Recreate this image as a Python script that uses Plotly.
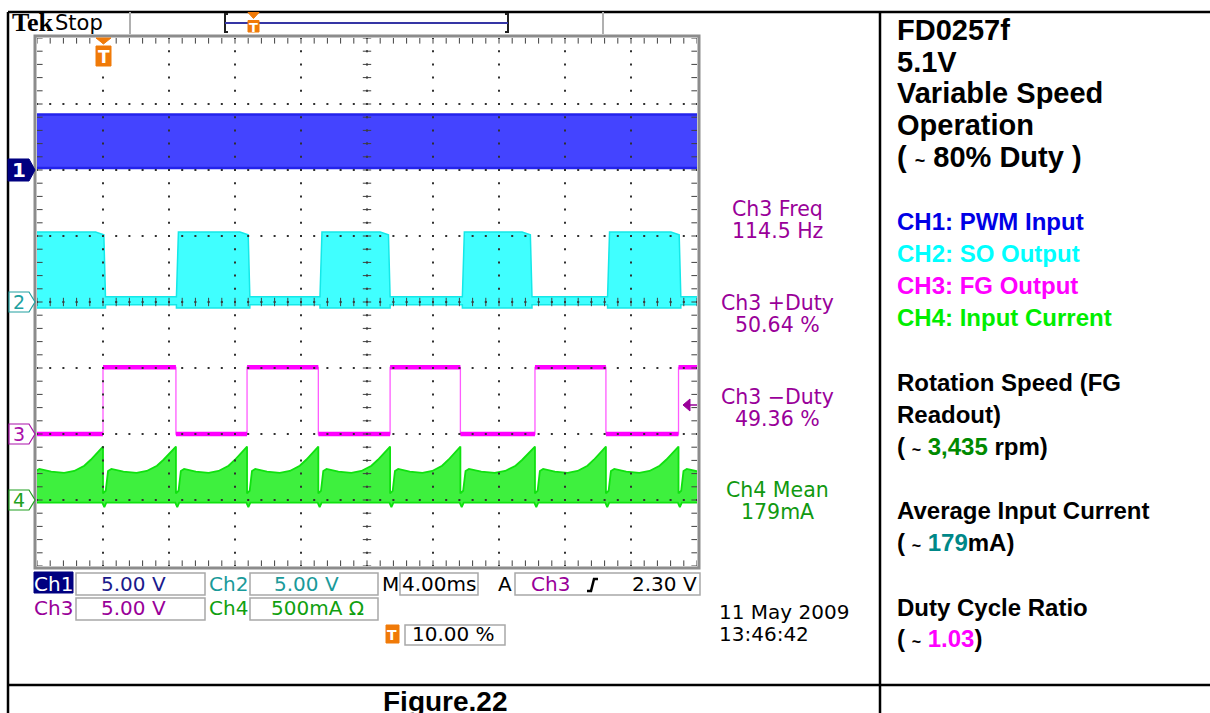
import numpy as np
import plotly.graph_objects as go

W, H = 1210, 713
PAGE_OFFSET = 0   # body margin removed by post_script below

# ------------------------------------------------------------------ data
ms_per_div = 4.0
x_range_ms = [-4.0, 36.0]          # 10 div, trigger at 10 %
y_range_div = [-4.0, 4.0]

ch1_offset, ch2_offset, ch3_offset, ch4_offset = 2.0, 0.0, -2.0, -3.0

# CH1 PWM input: dense band (bottom, top) in div
ch1_band_div = [0.03, 0.84]

# CH2 SO output: chopped blocks
ch2_high_start_ms = [-6.0, 4.45, 13.15, 21.78, 30.58]
ch2_high_end_ms = [0.05, 8.80, 17.30, 25.90, 34.92]
ch2_low_band_div = [-0.04, 0.08]
ch2_high_bottom_div = -0.09
ch2_high_top_div = 1.06
ch2_high_end_div = 1.02

# CH3 FG output: edges (first edge = trigger rising edge)
ch3_edges_ms = [0.0, 4.42, 8.73, 13.05, 17.40, 21.66, 26.18, 30.48, 34.88]
ch3_low_div, ch3_high_div = 0.0, 1.01

# CH4 input current: envelope per commutation half period
ch4_prev_edge_ms = -4.36
ch4_next_edge_ms = 39.25
ch4_profile_frac = [0.0, 0.037, 0.069, 0.115, 0.28, 0.46, 0.60, 0.74, 0.83, 0.93, 1.0]
ch4_profile_div = [0.10, 0.14, 0.44, 0.47, 0.43, 0.41, 0.44, 0.52, 0.61, 0.72, 0.81]
ch4_base_div = -0.04
ch4_dip_div = -0.11

meas_labels = ["Ch3 Freq", "114.5 Hz", "Ch3 +Duty", "50.64 %", "Ch3 \u2212Duty", "49.36 %", "Ch4 Mean", "179mA"]

# ------------------------------------------------------------------ helpers
def px(x):
    return (x - PAGE_OFFSET) / W

def py(y):
    return 1 - (y - PAGE_OFFSET) / H

shapes = []
annos = []

def line(x0, y0, x1, y1, color="black", width=2):
    shapes.append(dict(type="line", xref="paper", yref="paper", x0=px(x0), y0=py(y0),
                       x1=px(x1), y1=py(y1), line=dict(color=color, width=width)))

def rect(x0, y0, x1, y1, color="#a8a8a8", width=1.5, fill=None):
    shapes.append(dict(type="rect", xref="paper", yref="paper", x0=px(x0), y0=py(y0),
                       x1=px(x1), y1=py(y1), line=dict(color=color, width=width),
                       fillcolor=fill if fill else "rgba(0,0,0,0)"))

def path(pts, color, width=1.5, fill=None, close=True):
    d = "M " + " L ".join(f"{px(a):.5f},{py(b):.5f}" for a, b in pts)
    if close:
        d += " Z"
    shapes.append(dict(type="path", xref="paper", yref="paper", path=d,
                       line=dict(color=color, width=width),
                       fillcolor=fill if fill else "rgba(0,0,0,0)"))

def text(x, y, s, size=20, color="black", family="DejaVu Sans", xanchor="center", yanchor="middle"):
    annos.append(dict(xref="paper", yref="paper", x=px(x), y=py(y), text=s, showarrow=False,
                      xanchor=xanchor, yanchor=yanchor,
                      font=dict(size=size, color=color, family=family)))

fig = go.Figure()

# ------------------------------------------------------------------ CH1 band
b0, b1 = ch1_band_div
fig.add_trace(go.Scatter(x=[-5, 37, 37, -5, -5],
                         y=[ch1_offset + b1, ch1_offset + b1, ch1_offset + b0, ch1_offset + b0, ch1_offset + b1],
                         fill="toself", fillcolor="rgb(68,68,255)", mode="lines",
                         line=dict(color="rgb(35,35,235)", width=2.5), hoverinfo="skip"))

# ------------------------------------------------------------------ CH2 blocks
lo_b, lo_t = ch2_low_band_div
tx, ty = [-7.0], [lo_t]
for s, e in zip(ch2_high_start_ms, ch2_high_end_ms):
    tx += [s, s + 0.12, e - 0.5, e, e + 0.1]
    ty += [lo_t, ch2_high_top_div, ch2_high_top_div, ch2_high_end_div, lo_t]
tx += [37.0]
ty += [lo_t]
bx, by = [37.0], [lo_b]
for s, e in reversed(list(zip(ch2_high_start_ms, ch2_high_end_ms))):
    bx += [e + 0.1, e + 0.1, s, s]
    by += [lo_b, ch2_high_bottom_div, ch2_high_bottom_div, lo_b]
bx += [-7.0]
by += [lo_b]
fig.add_trace(go.Scatter(x=tx + bx, y=[v + ch2_offset for v in ty + by], fill="toself",
                         fillcolor="rgb(64,255,255)", mode="lines",
                         line=dict(color="rgb(20,232,232)", width=1.5), hoverinfo="skip"))

# ------------------------------------------------------------------ CH3 FG
sx, sy = [-5.0], [ch3_low_div]
lvx, lvy = [-5.0], [ch3_low_div]
cur = ch3_low_div
for ed in ch3_edges_ms:
    new = ch3_high_div if cur == ch3_low_div else ch3_low_div
    sx += [ed, ed]
    sy += [cur, new]
    lvx += [ed, None, ed]
    lvy += [cur, None, new]
    cur = new
sx.append(37.0)
sy.append(cur)
lvx.append(37.0)
lvy.append(cur)
fig.add_trace(go.Scatter(x=sx, y=[v + ch3_offset for v in sy], mode="lines",
                         line=dict(color="rgb(255,90,255)", width=1.3), hoverinfo="skip"))
fig.add_trace(go.Scatter(x=lvx, y=[None if v is None else v + ch3_offset for v in lvy], mode="lines",
                         line=dict(color="rgb(255,0,255)", width=4.5), hoverinfo="skip"))

# ------------------------------------------------------------------ CH4 current
edges_all = [ch4_prev_edge_ms] + ch3_edges_ms + [ch4_next_edge_ms]
gx, gy = [], []
for a, b in zip(edges_all[:-1], edges_all[1:]):
    for f, lv in zip(ch4_profile_frac, ch4_profile_div):
        gx.append(a + f * (b - a))
        gy.append(lv)
hx, hy = [gx[-1]], [ch4_base_div]
for ed in reversed(ch3_edges_ms):
    hx += [ed + 0.2, ed + 0.08, ed - 0.04]
    hy += [ch4_base_div, ch4_dip_div, ch4_base_div]
hx.append(gx[0])
hy.append(ch4_base_div)
fig.add_trace(go.Scatter(x=gx + hx, y=[v + ch4_offset for v in gy + hy], fill="toself",
                         fillcolor="rgb(62,240,62)", mode="lines",
                         line=dict(color="rgb(15,225,15)", width=1.8), hoverinfo="skip"))

# ------------------------------------------------------------------ graticule
x_minor = np.round(np.arange(x_range_ms[0], x_range_ms[1] + 1e-6, ms_per_div / 5), 4)
y_minor = np.round(np.arange(y_range_div[0], y_range_div[1] + 1e-6, 0.2), 4)
dx, dy = [], []
for yl in range(-3, 4):
    dx += list(x_minor)
    dy += [yl] * len(x_minor)
for k in range(1, 10):
    xl = x_range_ms[0] + k * ms_per_div
    dx += [xl] * len(y_minor)
    dy += list(y_minor)
fig.add_trace(go.Scatter(x=dx, y=dy, mode="markers",
                         marker=dict(symbol="square", size=2, color="#303030"), hoverinfo="skip"))
xc = (x_range_ms[0] + x_range_ms[1]) / 2
fig.add_trace(go.Scatter(x=list(x_minor), y=[0] * len(x_minor), mode="markers",
                         marker=dict(symbol="line-ns", size=6, line=dict(width=1, color="#404040")),
                         hoverinfo="skip"))
fig.add_trace(go.Scatter(x=[xc] * len(y_minor), y=list(y_minor), mode="markers",
                         marker=dict(symbol="line-ew", size=6, line=dict(width=1, color="#404040")),
                         hoverinfo="skip"))
fig.add_trace(go.Scatter(x=list(x_minor) * 2, y=[y_range_div[1]] * len(x_minor) + [y_range_div[0]] * len(x_minor),
                         mode="markers",
                         marker=dict(symbol="line-ns", size=8, line=dict(width=1, color="#404040")),
                         hoverinfo="skip"))
fig.add_trace(go.Scatter(x=[x_range_ms[0]] * len(y_minor) + [x_range_ms[1]] * len(y_minor), y=list(y_minor) * 2,
                         mode="markers",
                         marker=dict(symbol="line-ew", size=8, line=dict(width=1, color="#404040")),
                         hoverinfo="skip"))

# ------------------------------------------------------------------ frame & table
rect(35, 36, 699, 568, color="#8c8c8c", width=3)
line(8, 12, 1210, 12, width=2.5)
line(8, 12, 8, 713, width=2.5)
line(880, 12, 880, 713, width=2.5)
line(8, 685, 1210, 685, width=2.5)
line(130, 12, 130, 34, color="#b0b0b0", width=2)
line(603, 12, 603, 34, color="#b0b0b0", width=2)

# header
text(10, 23, "<b>Tek</b>", size=26, family="Liberation Serif", xanchor="left")
text(53, 23, "Stop", size=21, xanchor="left")
path([(228, 14), (225, 14), (225, 32), (228, 32)], "#202020", width=2, close=False)
path([(505, 14), (508, 14), (508, 32), (505, 32)], "#202020", width=2, close=False)
line(225, 23, 508, 23, color="#3535a5", width=2)

ORANGE = "#f07a08"
def t_icon(cx, y0, y1, w, tsize, tri=True):
    if tri:
        path([(cx - w / 2, y0), (cx + w / 2, y0), (cx, y0 + 6)], ORANGE, width=1, fill=ORANGE)
        y0 = y0 + 8
    rect(cx - w / 2, y0, cx + w / 2, y1, color=ORANGE, width=1, fill=ORANGE)
    text(cx, (y0 + y1) / 2 + 1, "<b>T</b>", size=tsize, color="white")

t_icon(253.5, 12.5, 32, 11, 13)
t_icon(103.5, 38, 66, 15, 17)
t_icon(392.5, 625, 643, 13, 14, tri=False)

# channel markers
path([(8, 159), (29, 159), (35, 170), (29, 181), (8, 181)], "#000080", width=1, fill="#000080")
text(19, 170, "<b>1</b>", size=20, color="white")
for yc, col, lab in [(302, "#20a0a0", "2"), (434, "#aa10aa", "3"), (500, "#20a020", "4")]:
    path([(9, yc - 10), (29, yc - 10), (35, yc), (29, yc + 10), (9, yc + 10)], col, width=1.2, fill="white")
    text(19, yc, lab, size=19, color=col)

# trigger level arrow (ch3)
path([(683, 405), (690, 399), (690, 411)], "#990099", width=1, fill="#990099")
line(690, 405, 697, 405, color="#990099", width=1.5)

# measurements
PURPLE = "#990099"
MGREEN = "#119911"
for (yy, s, c) in zip([209, 231, 303, 325, 397, 419, 490, 512], meas_labels,
                      [PURPLE] * 6 + [MGREEN] * 2):
    text(777, yy, s, size=20.5, color=c)

# status area
NAVY = "#1a1a8c"
TEAL = "#1a9a9a"
SGREEN = "#10a010"
rect(34, 572, 73, 593, color="#000080", width=1, fill="#000080")
for bx0, by0, bx1, by1 in [(76, 573, 205, 595), (250, 573, 378, 595), (400, 573, 478, 595),
                           (515, 573, 700, 595), (76, 598, 205, 620), (250, 598, 378, 620),
                           (405, 625, 505, 645)]:
    rect(bx0, by0, bx1, by1)
text(53, 584, "Ch1", color="white")
text(133, 584, "5.00 V", color=NAVY)
text(228, 584, "Ch2", color=TEAL)
text(306, 584, "5.00 V", color=TEAL)
text(390, 584, "M")
text(439, 584, "4.00ms")
text(505, 584, "A")
text(550, 584, "Ch3", color=PURPLE)
path([(587, 591), (591, 591), (594, 579), (598, 579)], "black", width=2.5, close=False)
text(665, 584, "2.30 V")
text(53, 608, "Ch3", color=PURPLE)
text(133, 608, "5.00 V", color=PURPLE)
text(228, 608, "Ch4", color=SGREEN)
text(317, 608, "500mA \u03a9", color=SGREEN)
text(410, 634, "10.00 %", xanchor="left")
text(717, 612, "11 May 2009", xanchor="left")
text(717, 634, "13:46:42", xanchor="left")

# right panel
AR = "Liberation Sans"
for yy, s in zip([30, 62, 93, 125, 157],
                 ["FD0257f", "5.1V", "Variable Speed", "Operation",
                  "( <span style='font-size:18px'>~</span> 80% Duty )"]):
    text(895, yy, "<b>" + s + "</b>", size=29, family=AR, xanchor="left")
for yy, s, c in zip([222, 254, 286, 318],
                    ["CH1: PWM Input", "CH2: SO Output", "CH3: FG Output", "CH4: Input Current"],
                    ["#0000e6", "#00ffff", "#ff00ff", "#00ee00"]):
    text(895, yy, "<b>" + s + "</b>", size=24, color=c, family=AR, xanchor="left")
T = "<span style='font-size:16px'>~</span>"
lower = [(382, "Rotation Speed (FG"), (415, "Readout)"),
         (447, f"( {T} <span style='color:#008a00'>3,435</span> rpm)"),
         (510, "Average Input Current"),
         (542, f"( {T} <span style='color:#008888'>179</span>mA)"),
         (607, "Duty Cycle Ratio"),
         (638, f"( {T} <span style='color:#ff00ff'>1.03</span>)")]
for yy, s in lower:
    text(895, yy, "<b>" + s + "</b>", size=24, family=AR, xanchor="left")
text(445, 701, "<b>Figure.22</b>", size=28, family=AR)

fig.update_layout(
    width=W, height=H, autosize=False,
    margin=dict(l=0, r=0, t=0, b=0, pad=0),
    paper_bgcolor="white", plot_bgcolor="white",
    showlegend=False,
    xaxis=dict(domain=[px(37), px(697)], range=x_range_ms, visible=False, fixedrange=True),
    yaxis=dict(domain=[py(566), py(38)], range=y_range_div, visible=False, fixedrange=True),
    shapes=shapes, annotations=annos,
)
fig.write_html("out.html", config={"displayModeBar": False},
               post_script="document.body.style.margin='0';document.body.style.overflow='hidden';")
